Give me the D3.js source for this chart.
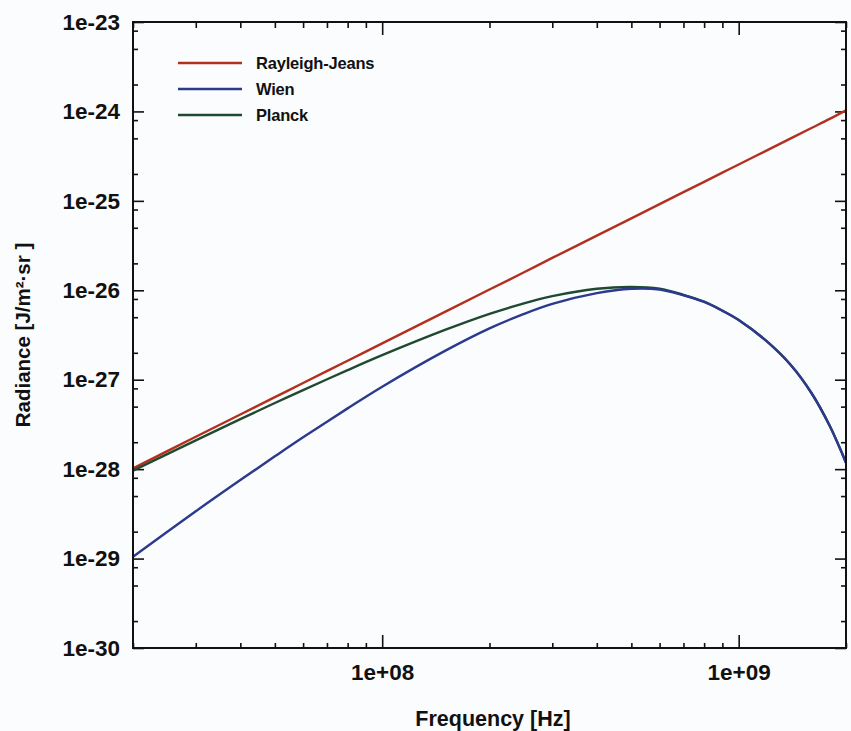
<!DOCTYPE html>
<meta charset="utf-8">
<head>
    <title>Rayleigh-Jeans, Wien and Planck</title>
    <script src="https://d3js.org/d3.v7.min.js"></script>
    <style>
        body { margin: 0; background: #fbfcfe; }
        text { font-family: "Liberation Sans", Arial, sans-serif; font-weight: bold; fill: #111; }
        .axis path { display: none; }
        .axis line { stroke: #111; stroke-width: 1.6px; }
    </style>
</head>
<body>
    <div id="chart"></div>
    <script>
        // values (frequency in Hz, radiance)
        var frequency = [2e7, 3e7, 4e7, 5e7, 6e7, 8e7, 1e8, 1.5e8, 2e8, 2.5e8, 3e8, 4e8,
                         5e8, 6e8, 7e8, 8e8, 9e8, 1e9, 1.2e9, 1.4e9, 1.6e9, 1.8e9, 2e9];
        var rayleighJeans = [1.02e-28, 2.30e-28, 4.08e-28, 6.38e-28, 9.18e-28, 1.63e-27, 2.55e-27,
                             5.74e-27, 1.02e-26, 1.59e-26, 2.30e-26, 4.08e-26, 6.38e-26, 9.18e-26,
                             1.25e-25, 1.63e-25, 2.07e-25, 2.55e-25, 3.67e-25, 5.00e-25, 6.53e-25,
                             8.26e-25, 1.03e-24];
        var wien = [1.05e-29, 3.38e-29, 7.55e-29, 1.39e-28, 2.27e-28, 4.78e-28, 8.35e-28,
                    2.10e-27, 3.75e-27, 5.45e-27, 7.05e-27, 9.30e-27, 1.04e-26, 1.02e-26,
                    8.80e-27, 7.40e-27, 5.90e-27, 4.65e-27, 2.68e-27, 1.46e-27, 7.10e-28,
                    3.05e-28, 1.18e-28];
        var planck = [9.62e-29, 2.10e-28, 3.62e-28, 5.49e-28, 7.66e-28, 1.28e-27, 1.88e-27,
                      3.60e-27, 5.45e-27, 7.15e-27, 8.60e-27, 1.04e-26, 1.09e-26, 1.04e-26,
                      8.90e-27, 7.45e-27, 5.92e-27, 4.66e-27, 2.68e-27, 1.46e-27, 7.10e-28,
                      3.05e-28, 1.18e-28];

        var seriesNames = ["Rayleigh-Jeans", "Wien", "Planck"];
        var seriesColors = ["#b3301f", "#2b3a8c", "#1f4a2f"];
        var xMajorTicks = [1e8, 1e9];
        var yMajorTicks = [1e-30, 1e-29, 1e-28, 1e-27, 1e-26, 1e-25, 1e-24, 1e-23];

        var width = 851, height = 731;
        var plot = { left: 133, top: 22, right: 846, bottom: 648 };

        var svg = d3.select("#chart")
            .append("svg")
            .attr("width", width)
            .attr("height", height);

        var x = d3.scaleLog().domain([2e7, 2e9]).range([plot.left, plot.right]);
        var y = d3.scaleLog().domain([1e-30, 1e-23]).range([plot.bottom, plot.top]);

        // minor ticks: every integer on x, 2/5/8 on y
        var xMinorTicks = [];
        [1e7, 1e8, 1e9].forEach(function(dec) {
            for (var m = 2; m <= 9; m++) {
                var v = dec * m;
                if (v >= 2e7 && v <= 2e9) xMinorTicks.push(v);
            }
        });
        var yMinorTicks = [];
        yMajorTicks.slice(0, -1).forEach(function(dec) {
            [2, 5, 8].forEach(function(m) { yMinorTicks.push(dec * m); });
        });

        function sciLabel(d) {
            var e = Math.round(Math.log10(d));
            return "1e" + (e < 0 ? "-" : "+") + String(Math.abs(e)).padStart(2, "0");
        }

        // bottom / top
        svg.append("g").attr("class", "axis")
            .attr("transform", "translate(0," + plot.bottom + ")")
            .call(d3.axisBottom(x).tickValues(xMajorTicks).tickSize(-13).tickPadding(16).tickFormat(sciLabel))
            .selectAll("text").style("font-size", "22.5px").style("fill", "#111");
        svg.append("g").attr("class", "axis")
            .attr("transform", "translate(0," + plot.bottom + ")")
            .call(d3.axisBottom(x).tickValues(xMinorTicks).tickSize(-5).tickFormat(""));
        svg.append("g").attr("class", "axis")
            .attr("transform", "translate(0," + plot.top + ")")
            .call(d3.axisTop(x).tickValues(xMajorTicks).tickSize(-13).tickFormat(""));
        svg.append("g").attr("class", "axis")
            .attr("transform", "translate(0," + plot.top + ")")
            .call(d3.axisTop(x).tickValues(xMinorTicks).tickSize(-6).tickFormat(""));

        // left / right
        svg.append("g").attr("class", "axis")
            .attr("transform", "translate(" + plot.left + ",0)")
            .call(d3.axisLeft(y).tickValues(yMajorTicks).tickSize(-11).tickPadding(13).tickFormat(sciLabel))
            .selectAll("text").style("font-size", "22.5px").style("fill", "#111");
        svg.append("g").attr("class", "axis")
            .attr("transform", "translate(" + plot.left + ",0)")
            .call(d3.axisLeft(y).tickValues(yMinorTicks).tickSize(-5).tickFormat(""));
        svg.append("g").attr("class", "axis")
            .attr("transform", "translate(" + plot.right + ",0)")
            .call(d3.axisRight(y).tickValues(yMajorTicks).tickSize(-11).tickFormat(""));
        svg.append("g").attr("class", "axis")
            .attr("transform", "translate(" + plot.right + ",0)")
            .call(d3.axisRight(y).tickValues(yMinorTicks).tickSize(-5).tickFormat(""));

        // curves
        svg.append("clipPath").attr("id", "clip")
            .append("rect")
            .attr("x", plot.left).attr("y", plot.top)
            .attr("width", plot.right - plot.left).attr("height", plot.bottom - plot.top);

        var line = d3.line()
            .x(function(d) { return x(d[0]); })
            .y(function(d) { return y(d[1]); })
            .curve(d3.curveCatmullRom.alpha(0.5));

        var seriesValues = [rayleighJeans, wien, planck];
        // draw Planck under Wien so the overlap reads blue
        [0, 2, 1].forEach(function(i) {
            var pts = frequency.map(function(f, j) { return [f, seriesValues[i][j]]; });
            svg.append("path")
                .attr("clip-path", "url(#clip)")
                .attr("d", line(pts))
                .attr("fill", "none")
                .attr("stroke", seriesColors[i])
                .attr("stroke-width", 2.4);
        });

        // frame
        svg.append("rect")
            .attr("x", plot.left).attr("y", plot.top)
            .attr("width", plot.right - plot.left).attr("height", plot.bottom - plot.top)
            .attr("fill", "none")
            .attr("stroke", "#111")
            .attr("stroke-width", 2);

        // legend
        var legend = svg.append("g").attr("transform", "translate(178,63)");
        seriesNames.forEach(function(name, i) {
            var row = legend.append("g").attr("transform", "translate(0," + (i * 26) + ")");
            row.append("line")
                .attr("x1", 0).attr("x2", 64)
                .attr("stroke", seriesColors[i])
                .attr("stroke-width", 2.4);
            row.append("text")
                .attr("x", 78).attr("dy", "0.35em")
                .style("font-size", "16.5px")
                .style("letter-spacing", "-0.2px")
                .text(name);
        });

        // axis titles
        svg.append("text")
            .attr("x", 493).attr("y", 726)
            .attr("text-anchor", "middle")
            .style("font-size", "21.5px")
            .text("Frequency [Hz]");

        svg.append("text")
            .attr("transform", "translate(30,335) rotate(-90)")
            .attr("text-anchor", "middle")
            .style("font-size", "20.5px")
            .text("Radiance [J/m²·sr ]");
    </script>
</body>
</html>
